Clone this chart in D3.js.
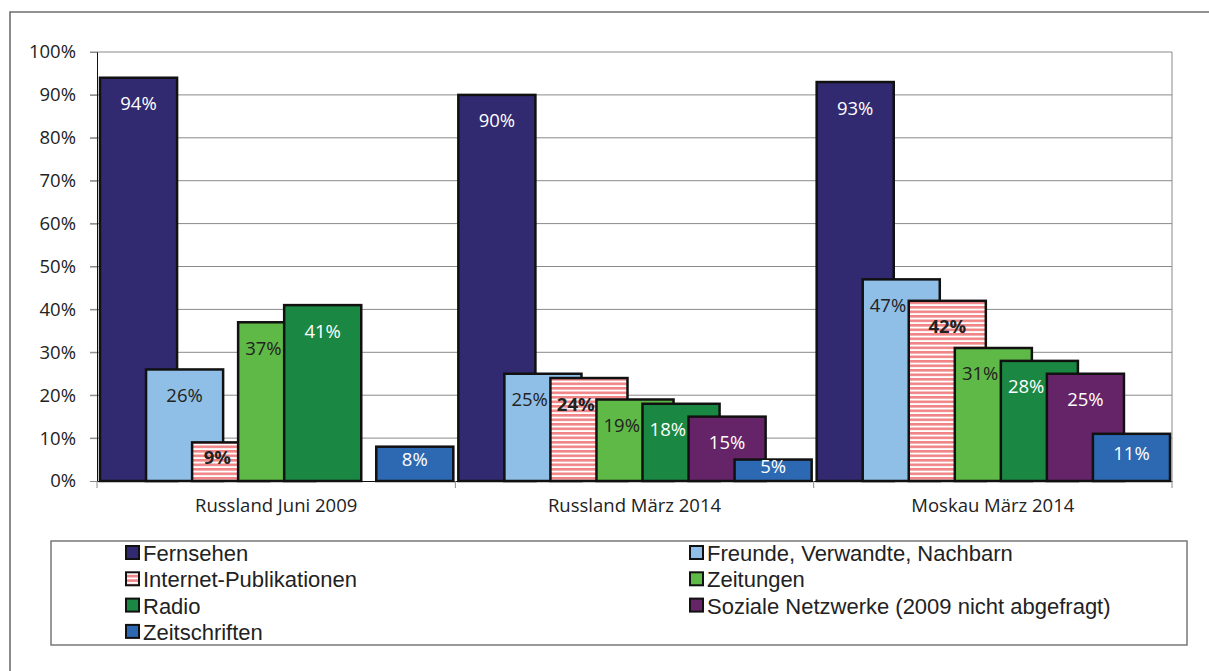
<!DOCTYPE html>
<html lang="de">
<head>
<meta charset="utf-8">
<script src="https://cdn.jsdelivr.net/npm/d3@7"></script>
<style>
  body { margin: 0; background: white; }
  svg { font-family: 'Open Sans', sans-serif; }
  .grid line { stroke: #8a8a8a; stroke-width: 1px; }
  .bar { stroke: #111; stroke-width: 2.5px; }
</style>
</head>
<body>
<svg width="1209" height="671"></svg>
<script>
// data
var categories = ["Russland Juni 2009", "Russland März 2014", "Moskau März 2014"];
var seriesNames = ["Fernsehen", "Freunde, Verwandte, Nachbarn", "Internet-Publikationen",
  "Zeitungen", "Radio", "Soziale Netzwerke (2009 nicht abgefragt)", "Zeitschriften"];
var fernsehen     = [94, 90, 93];
var freunde       = [26, 25, 47];
var internet      = [9, 24, 42];
var zeitungen     = [37, 19, 31];
var radio         = [41, 18, 28];
var sozial        = [null, 15, 25];
var zeitschriften = [8, 5, 11];
var yTicks = [0, 10, 20, 30, 40, 50, 60, 70, 80, 90, 100];

var values = [fernsehen, freunde, internet, zeitungen, radio, sozial, zeitschriften];
var fills = ["#322a70", "#8fbfe6", "url(#stripes)", "#5fb946", "#1a8842", "#662468", "#2d69b2"];
var labelColor = ["#fff", "#222", "#222", "#222", "#fff", "#fff", "#fff"];

var svg = d3.select("svg");

// stripes for Internet-Publikationen
var pat = svg.append("defs").append("pattern")
    .attr("id", "stripes").attr("patternUnits", "userSpaceOnUse")
    .attr("width", 8).attr("height", 4.5);
pat.append("rect").attr("width", 8).attr("height", 4.5).attr("fill", "#fff");
pat.append("rect").attr("y", 0).attr("width", 8).attr("height", 2.6).attr("fill", "#f08486");

// outer frame
svg.append("path")
    .attr("d", "M10,671 V12 H1209")
    .attr("fill", "none").attr("stroke", "#6e6e6e").attr("stroke-width", 1.6);

var pLeft = 97, pRight = 1172, pTop = 52, pBottom = 481;

var x = d3.scaleBand().domain(categories).range([pLeft, pRight]).padding(0);
var y = d3.scaleLinear().domain([0, 100]).range([pBottom, pTop]);

var bw = x.bandwidth();
var step = bw * 46 / 358, barW = bw * 77 / 358, pad = bw * 3 / 358;
var xi = d3.scaleLinear().domain([0, 1]).range([pad, pad + step]);

// grid
var grid = svg.append("g").attr("class", "grid");
grid.selectAll("line").data(yTicks.filter(d => d > 0)).join("line")
    .attr("x1", pLeft - 7).attr("x2", pRight)
    .attr("y1", d => y(d)).attr("y2", d => y(d));
svg.append("line").attr("x1", pRight).attr("x2", pRight).attr("y1", pTop).attr("y2", pBottom)
    .attr("stroke", "#8a8a8a");

// y axis
var yAxis = svg.append("g").attr("transform", "translate(" + pLeft + ",0)")
    .call(d3.axisLeft(y).tickValues(yTicks).tickFormat(d => d + "%").tickSize(7).tickPadding(14));
yAxis.select(".domain").attr("stroke", "#111");
yAxis.selectAll(".tick line").attr("stroke", "#8a8a8a");
yAxis.selectAll("text").attr("font-size", 18.5).attr("fill", "#222")
    .attr("font-family", "'Open Sans', sans-serif");

// x axis
var xAxis = svg.append("g").attr("transform", "translate(0," + pBottom + ")")
    .call(d3.axisBottom(x).tickSize(0).tickPadding(18));
xAxis.select(".domain").attr("stroke", "#111");
xAxis.selectAll("text").attr("font-size", 18.5).attr("fill", "#222")
    .attr("font-family", "'Open Sans', sans-serif");
svg.append("g").selectAll("line").data([pLeft, pLeft + bw, pLeft + 2 * bw, pRight]).join("line")
    .attr("x1", d => d).attr("x2", d => d).attr("y1", pBottom).attr("y2", pBottom + 7)
    .attr("stroke", "#8a8a8a");

// bars, drawn in series order so later ones overlap earlier ones
var bars = svg.append("g");
var labels = svg.append("g");
categories.forEach(function(cat, ci) {
  values.forEach(function(vals, si) {
    var v = vals[ci];
    if (v == null) return;
    var x0 = x(cat) + xi(si);
    bars.append("rect").attr("class", "bar")
        .attr("x", x0).attr("y", y(v))
        .attr("width", barW).attr("height", y(0) - y(v))
        .attr("fill", fills[si]);
    var next = si + 1 < values.length ? values[si + 1][ci] : null;
    var covered = next != null && next > v - 6;
    var lx = covered ? x0 + step * 0.55 : x0 + barW / 2;
    var ly = Math.min(y(v) + 26, (y(v) + y(0)) / 2 - 4);
    labels.append("text")
        .attr("x", lx).attr("y", ly).attr("dy", "0.35em")
        .attr("text-anchor", "middle")
        .attr("font-size", 18.5)
        .attr("font-weight", si === 2 ? "bold" : "normal")
        .attr("fill", labelColor[si])
        .text(v + "%");
  });
});

// legend
svg.append("rect").attr("x", 51).attr("y", 541).attr("width", 1136).attr("height", 104)
    .attr("fill", "none").attr("stroke", "#6e6e6e").attr("stroke-width", 1.4);
var leg = svg.append("g").selectAll("g").data(seriesNames).join("g")
    .attr("transform", (d, i) => "translate(" + (i % 2 ? 690 : 126) + "," + (553 + Math.floor(i / 2) * 26.3) + ")");
leg.append("rect").attr("x", 0).attr("y", -7).attr("width", 13).attr("height", 13)
    .attr("fill", (d, i) => fills[i]).attr("stroke", "#111").attr("stroke-width", 2);
leg.append("text").attr("x", 17).attr("dy", "0.36em")
    .attr("font-family", "'Liberation Sans', Arial, sans-serif")
    .attr("font-size", 22).attr("fill", "#222").text(d => d);
</script>
</body>
</html>
